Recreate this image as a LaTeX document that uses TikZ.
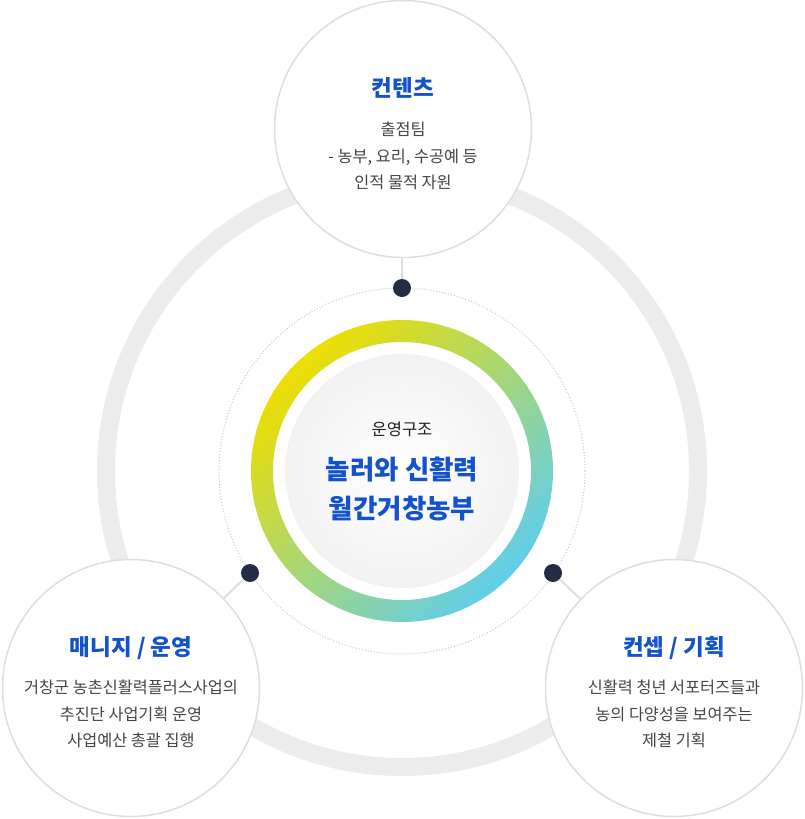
\documentclass[tikz,border=0pt]{standalone}
\usepackage{fontspec}
\setmainfont{Noto Sans CJK KR}
\usepackage{tikz}

\definecolor{headblue}{RGB}{18,82,204}
\definecolor{bodygray}{RGB}{70,70,70}
\definecolor{ringgray}{RGB}{236,236,236}
\definecolor{edgegray}{RGB}{222,222,222}
\definecolor{dotnavy}{RGB}{35,43,69}
\definecolor{ringA}{RGB}{238,222,0}
\definecolor{ringB}{RGB}{165,215,125}
\definecolor{ringC}{RGB}{96,206,236}

\begin{document}
\begin{tikzpicture}[x=1pt, y=-1pt,
	bubble/.style={circle, draw=edgegray, line width=1.5pt, fill=white, minimum size=257pt, inner sep=0pt},
	knot/.style={circle, fill=dotnavy, minimum size=18pt, inner sep=0pt},
	link/.style={edgegray, line width=2pt},
	head/.style={inner sep=0pt, text=headblue, font=\fontsize{22.5}{27}\selectfont\bfseries},
	body/.style={inner sep=0pt, text=bodygray, align=center, font=\fontsize{16.3}{26.5}\selectfont}]
	\useasboundingbox (0,0) rectangle (804,819);
	% outer track and dotted orbit
	\draw[ringgray, line width=18pt] (402,471) circle (296pt);
	\draw[gray!45, line width=1pt, dash pattern=on 1pt off 2pt] (402,471) circle (183pt);
	% gradient ring and hub
	\shade[even odd rule, top color=ringA, middle color=ringB, bottom color=ringC, shading angle=45] (402,471) circle (151pt) (402,471) circle (129pt);
	\shade[inner color=white, outer color=black!5] (402,471) circle (117pt);
	\node[inner sep=0pt, text=black!87, font=\fontsize{16.5}{19}\selectfont] (hubtitle) at (402,429) {운영구조};
	\node[inner sep=0pt, text=headblue, align=center, font=\fontsize{26.5}{39}\selectfont\bfseries] (hubname) at (402,489) {놀러와 신활력\\월간거창농부};
	% dots on the orbit
	\node[knot] (dtop) at (402,288) {};
	\node[knot] (dleft) at (250,573) {};
	\node[knot] (dright) at (553,573) {};
	% three bubbles
	\node[bubble] (btop) at (403,129) {};
	\node[bubble] (bleft) at (131,688) {};
	\node[bubble] (bright) at (674,688) {};
	\draw[link] (dtop) -- (btop);
	\draw[link] (dleft) -- (bleft);
	\draw[link] (dright) -- (bright);
	\node[head] (toph) at (403,88) {컨텐츠};
	\node[body] (topb) at (403,156) {출점팀\\- 농부, 요리, 수공예 등\\인적 물적 자원};
	\node[head] (lefth) at (131,648) {매니지 / 운영};
	\node[body] (leftb) at (131,714) {거창군 농촌신활력플러스사업의\\추진단 사업기획 운영\\사업예산 총괄 집행};
	\node[head] (righth) at (674,648) {컨셉 / 기획};
	\node[body] (rightb) at (674,714) {신활력 청년 서포터즈들과\\농의 다양성을 보여주는\\제철 기획};
\end{tikzpicture}
\end{document}
